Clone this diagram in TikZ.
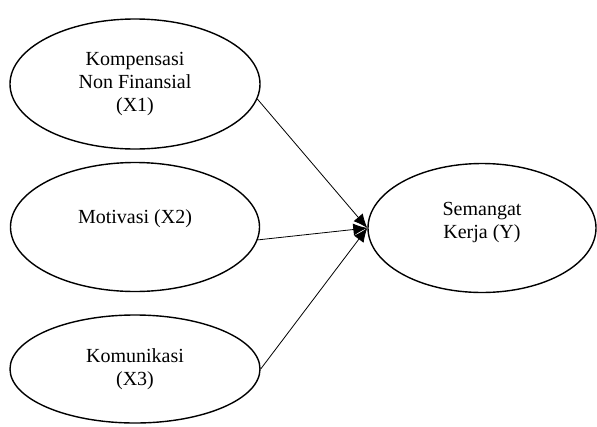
\documentclass[tikz,border=0pt]{standalone}
\usepackage{fontspec}
\setmainfont{Liberation Serif}
\usepackage{tikz}
\usetikzlibrary{shapes.geometric,arrows.meta}

\begin{document}
\begin{tikzpicture}[x=1pt,y=-1pt,
    var/.style={ellipse,draw,line width=1.4pt,inner sep=0pt,align=center,
      font=\fontsize{20}{23}\selectfont},
    path/.style={line width=0.8pt,-{Latex[length=14pt,width=12pt]}}]
  \useasboundingbox (0,0) rectangle (597,426);
  \node[var,minimum width=250pt,minimum height=130pt] (x1) at (135,84) {Kompensasi\\Non Finansial\\(X1)};
  \node[var,minimum width=249pt,minimum height=129pt] (x2) at (135,227) {Motivasi (X2)\\[-3pt]};
  \node[var,minimum width=250pt,minimum height=108pt] (x3) at (135,369) {Komunikasi\\(X3)};
  \node[var,minimum width=228pt,minimum height=129pt] (y) at (482,228) {Semangat\\Kerja (Y)\\[-8pt]};
  \draw[path] (x1.-7) -- (y.west);
  \draw[path] (x2.-6) -- (y.west);
  \draw[path] (x3.east) -- (y.west);
\end{tikzpicture}
\end{document}
